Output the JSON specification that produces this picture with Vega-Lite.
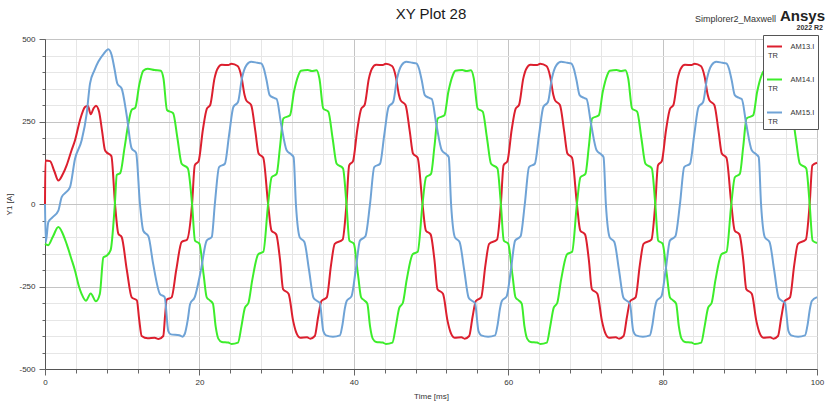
{
  "$schema": "https://vega.github.io/schema/vega-lite/v6.json",
  "width": 772,
  "height": 330,
  "autosize": {"type": "none"},
  "padding": {"left": 45, "top": 39, "right": 10, "bottom": 33},
  "background": "white",
  "config": {
    "font": "Liberation Sans",
    "view": {"stroke": "#8a8a8a", "strokeWidth": 1},
    "legend": {
      "orient": "none",
      "legendX": 718,
      "legendY": -4,
      "fillColor": "white",
      "strokeColor": "#555555",
      "padding": 3,
      "title": null,
      "symbolType": "stroke",
      "symbolSize": 225,
      "symbolStrokeWidth": 2,
      "labelFontSize": 7.5,
      "labelColor": "#333333",
      "labelLineHeight": 12,
      "labelOffset": -15,
      "labelBaseline": "middle",
      "rowPadding": 11
    }
  },
  "title": {"text": "XY Plot 28", "fontSize": 15, "fontWeight": "normal", "color": "#1a1a1a", "anchor": "middle", "frame": "group", "offset": -13},
  "datasets": {
    "red": [
      {"t":0,"v":0},{"t":0.05,"v":132},{"t":0.65,"v":130},{"t":1.2,"v":100},{"t":1.73,"v":71},{"t":2.3,"v":90},{"t":2.8,"v":117},{"t":3.4,"v":160},{"t":3.89,"v":193},{"t":4.53,"v":254},{"t":5.18,"v":294},{"t":5.55,"v":298},{"t":5.92,"v":272},{"t":6.3,"v":290},{"t":6.6,"v":298},{"t":7.0,"v":280},{"t":7.4,"v":220},{"t":7.77,"v":163},{"t":8.0,"v":156},{"t":8.6,"v":145},{"t":9.07,"v":0},{"t":9.5,"v":-90},{"t":9.93,"v":-100},{"t":10.6,"v":-200},{"t":11.23,"v":-283},{"t":11.9,"v":-292},{"t":12.2,"v":-350},{"t":12.52,"v":-400},{"t":13.3,"v":-407},{"t":14.2,"v":-405},{"t":14.7,"v":-409},{"t":15.32,"v":-400},{"t":15.55,"v":-340},{"t":15.76,"v":-290},{"t":16.4,"v":-283},{"t":17.0,"v":-200},{"t":17.7,"v":-115},{"t":18.4,"v":-108},
      {"t":19.05,"v":0},{"t":19.4,"v":117},{"t":19.9,"v":130},{"t":20.45,"v":225},{"t":20.97,"v":289},{"t":21.4,"v":300},{"t":21.95,"v":380},{"t":22.35,"v":410},{"t":22.9,"v":422},{"t":23.75,"v":421},{"t":24.15,"v":425},{"t":24.95,"v":418},{"t":25.45,"v":385},{"t":25.85,"v":330},{"t":26.07,"v":314},{"t":26.7,"v":300},{"t":27.25,"v":220},{"t":27.67,"v":153},{"t":28.27,"v":140},{"t":28.9,"v":0},{"t":29.33,"v":-80},{"t":29.95,"v":-92},{"t":30.45,"v":-170},{"t":30.84,"v":-258},{"t":31.55,"v":-272},{"t":32.15,"v":-355},{"t":32.55,"v":-390},{"t":33.05,"v":-405},{"t":33.95,"v":-404},{"t":34.35,"v":-408},{"t":34.95,"v":-400},{"t":35.37,"v":-344},{"t":35.81,"v":-294},{"t":36.5,"v":-283},{"t":37.05,"v":-185},{"t":37.53,"v":-121},{"t":38.55,"v":-108},
      {"t":39.05,"v":0},{"t":39.4,"v":117},{"t":39.9,"v":130},{"t":40.45,"v":225},{"t":40.97,"v":289},{"t":41.4,"v":300},{"t":41.95,"v":380},{"t":42.35,"v":410},{"t":42.9,"v":422},{"t":43.75,"v":421},{"t":44.15,"v":425},{"t":44.95,"v":418},{"t":45.45,"v":385},{"t":45.85,"v":330},{"t":46.07,"v":314},{"t":46.7,"v":300},{"t":47.25,"v":220},{"t":47.67,"v":153},{"t":48.27,"v":140},{"t":48.9,"v":0},{"t":49.33,"v":-80},{"t":49.95,"v":-92},{"t":50.45,"v":-170},{"t":50.84,"v":-258},{"t":51.55,"v":-272},{"t":52.15,"v":-355},{"t":52.55,"v":-390},{"t":53.05,"v":-405},{"t":53.95,"v":-404},{"t":54.35,"v":-408},{"t":54.95,"v":-400},{"t":55.37,"v":-344},{"t":55.81,"v":-294},{"t":56.5,"v":-283},{"t":57.05,"v":-185},{"t":57.53,"v":-121},{"t":58.55,"v":-108},
      {"t":59.05,"v":0},{"t":59.4,"v":117},{"t":59.9,"v":130},{"t":60.45,"v":225},{"t":60.97,"v":289},{"t":61.4,"v":300},{"t":61.95,"v":380},{"t":62.35,"v":410},{"t":62.9,"v":422},{"t":63.75,"v":421},{"t":64.15,"v":425},{"t":64.95,"v":418},{"t":65.45,"v":385},{"t":65.85,"v":330},{"t":66.07,"v":314},{"t":66.7,"v":300},{"t":67.25,"v":220},{"t":67.67,"v":153},{"t":68.27,"v":140},{"t":68.9,"v":0},{"t":69.33,"v":-80},{"t":69.95,"v":-92},{"t":70.45,"v":-170},{"t":70.84,"v":-258},{"t":71.55,"v":-272},{"t":72.15,"v":-355},{"t":72.55,"v":-390},{"t":73.05,"v":-405},{"t":73.95,"v":-404},{"t":74.35,"v":-408},{"t":74.95,"v":-400},{"t":75.37,"v":-344},{"t":75.81,"v":-294},{"t":76.5,"v":-283},{"t":77.05,"v":-185},{"t":77.53,"v":-121},{"t":78.55,"v":-108},
      {"t":79.05,"v":0},{"t":79.4,"v":117},{"t":79.9,"v":130},{"t":80.45,"v":225},{"t":80.97,"v":289},{"t":81.4,"v":300},{"t":81.95,"v":380},{"t":82.35,"v":410},{"t":82.9,"v":422},{"t":83.75,"v":421},{"t":84.15,"v":425},{"t":84.95,"v":418},{"t":85.45,"v":385},{"t":85.85,"v":330},{"t":86.07,"v":314},{"t":86.7,"v":300},{"t":87.25,"v":220},{"t":87.67,"v":153},{"t":88.27,"v":140},{"t":88.9,"v":0},{"t":89.33,"v":-80},{"t":89.95,"v":-92},{"t":90.45,"v":-170},{"t":90.84,"v":-258},{"t":91.55,"v":-272},{"t":92.15,"v":-355},{"t":92.55,"v":-390},{"t":93.05,"v":-405},{"t":93.95,"v":-404},{"t":94.35,"v":-408},{"t":94.95,"v":-400},{"t":95.37,"v":-344},{"t":95.81,"v":-294},{"t":96.5,"v":-283},{"t":97.05,"v":-185},{"t":97.53,"v":-121},{"t":98.55,"v":-108},
      {"t":99.05,"v":0},{"t":99.4,"v":117},{"t":100,"v":125}
    ],
    "green": [
      {"t":0,"v":-121},{"t":0.4,"v":-125},{"t":1.0,"v":-100},{"t":1.73,"v":-70},{"t":2.3,"v":-90},{"t":2.8,"v":-121},{"t":3.4,"v":-165},{"t":3.89,"v":-202},{"t":4.4,"v":-250},{"t":4.75,"v":-273},{"t":5.3,"v":-293},{"t":5.92,"v":-271},{"t":6.6,"v":-295},{"t":7.1,"v":-273},{"t":7.56,"v":-162},{"t":7.98,"v":-157},{"t":8.5,"v":-140},{"t":9.05,"v":0},{"t":9.3,"v":88},{"t":9.75,"v":94},{"t":10.3,"v":170},{"t":10.8,"v":244},{"t":11.23,"v":285},{"t":11.7,"v":292},{"t":12.2,"v":360},{"t":12.73,"v":404},{"t":13.3,"v":410},{"t":14.2,"v":406},{"t":15.0,"v":404},{"t":15.35,"v":380},{"t":15.8,"v":285},{"t":16.6,"v":275},{"t":17.15,"v":200},{"t":17.7,"v":122},{"t":18.5,"v":108},
      {"t":19.05,"v":0},{"t":19.43,"v":-111},{"t":20.0,"v":-120},{"t":20.55,"v":-215},{"t":20.95,"v":-283},{"t":21.35,"v":-292},{"t":21.75,"v":-302},{"t":22.1,"v":-370},{"t":22.45,"v":-408},{"t":22.9,"v":-418},{"t":23.75,"v":-420},{"t":24.15,"v":-424},{"t":25.0,"v":-420},{"t":25.45,"v":-370},{"t":25.9,"v":-314},{"t":26.35,"v":-300},{"t":26.85,"v":-230},{"t":27.63,"v":-152},{"t":28.28,"v":-145},{"t":28.9,"v":0},{"t":29.36,"v":81},{"t":30.0,"v":91},{"t":30.45,"v":175},{"t":30.87,"v":259},{"t":31.74,"v":269},{"t":32.25,"v":340},{"t":32.82,"v":390},{"t":33.15,"v":404},{"t":34.05,"v":406},{"t":34.55,"v":403},{"t":35.17,"v":405},{"t":35.55,"v":380},{"t":36.05,"v":289},{"t":36.7,"v":280},{"t":37.25,"v":200},{"t":37.78,"v":122},{"t":38.6,"v":108},
      {"t":39.05,"v":0},{"t":39.43,"v":-111},{"t":40.0,"v":-120},{"t":40.55,"v":-215},{"t":40.95,"v":-283},{"t":41.35,"v":-292},{"t":41.75,"v":-302},{"t":42.1,"v":-370},{"t":42.45,"v":-408},{"t":42.9,"v":-418},{"t":43.75,"v":-420},{"t":44.15,"v":-424},{"t":45.0,"v":-420},{"t":45.45,"v":-370},{"t":45.9,"v":-314},{"t":46.35,"v":-300},{"t":46.85,"v":-230},{"t":47.63,"v":-152},{"t":48.28,"v":-145},{"t":48.9,"v":0},{"t":49.36,"v":81},{"t":50.0,"v":91},{"t":50.45,"v":175},{"t":50.87,"v":259},{"t":51.74,"v":269},{"t":52.25,"v":340},{"t":52.82,"v":390},{"t":53.15,"v":404},{"t":54.05,"v":406},{"t":54.55,"v":403},{"t":55.17,"v":405},{"t":55.55,"v":380},{"t":56.05,"v":289},{"t":56.7,"v":280},{"t":57.25,"v":200},{"t":57.78,"v":122},{"t":58.6,"v":108},
      {"t":59.05,"v":0},{"t":59.43,"v":-111},{"t":60.0,"v":-120},{"t":60.55,"v":-215},{"t":60.95,"v":-283},{"t":61.35,"v":-292},{"t":61.75,"v":-302},{"t":62.1,"v":-370},{"t":62.45,"v":-408},{"t":62.9,"v":-418},{"t":63.75,"v":-420},{"t":64.15,"v":-424},{"t":65.0,"v":-420},{"t":65.45,"v":-370},{"t":65.9,"v":-314},{"t":66.35,"v":-300},{"t":66.85,"v":-230},{"t":67.63,"v":-152},{"t":68.28,"v":-145},{"t":68.9,"v":0},{"t":69.36,"v":81},{"t":70.0,"v":91},{"t":70.45,"v":175},{"t":70.87,"v":259},{"t":71.74,"v":269},{"t":72.25,"v":340},{"t":72.82,"v":390},{"t":73.15,"v":404},{"t":74.05,"v":406},{"t":74.55,"v":403},{"t":75.17,"v":405},{"t":75.55,"v":380},{"t":76.05,"v":289},{"t":76.7,"v":280},{"t":77.25,"v":200},{"t":77.78,"v":122},{"t":78.6,"v":108},
      {"t":79.05,"v":0},{"t":79.43,"v":-111},{"t":80.0,"v":-120},{"t":80.55,"v":-215},{"t":80.95,"v":-283},{"t":81.35,"v":-292},{"t":81.75,"v":-302},{"t":82.1,"v":-370},{"t":82.45,"v":-408},{"t":82.9,"v":-418},{"t":83.75,"v":-420},{"t":84.15,"v":-424},{"t":85.0,"v":-420},{"t":85.45,"v":-370},{"t":85.9,"v":-314},{"t":86.35,"v":-300},{"t":86.85,"v":-230},{"t":87.63,"v":-152},{"t":88.28,"v":-145},{"t":88.9,"v":0},{"t":89.36,"v":81},{"t":90.0,"v":91},{"t":90.45,"v":175},{"t":90.87,"v":259},{"t":91.74,"v":269},{"t":92.25,"v":340},{"t":92.82,"v":390},{"t":93.15,"v":404},{"t":94.05,"v":406},{"t":94.55,"v":403},{"t":95.17,"v":405},{"t":95.55,"v":380},{"t":96.05,"v":289},{"t":96.7,"v":280},{"t":97.25,"v":200},{"t":97.78,"v":122},{"t":98.6,"v":108},
      {"t":99.05,"v":0},{"t":99.43,"v":-111},{"t":100,"v":-118}
    ],
    "blue": [
      {"t":0,"v":0},{"t":0.1,"v":-116},{"t":0.43,"v":-55},{"t":1.0,"v":-40},{"t":1.73,"v":-20},{"t":2.16,"v":21},{"t":2.7,"v":35},{"t":3.24,"v":51},{"t":3.89,"v":137},{"t":4.75,"v":193},{"t":5.4,"v":274},{"t":5.83,"v":365},{"t":6.4,"v":405},{"t":6.9,"v":431},{"t":7.6,"v":455},{"t":8.2,"v":469},{"t":8.64,"v":451},{"t":9.0,"v":410},{"t":9.37,"v":365},{"t":9.93,"v":350},{"t":10.58,"v":269},{"t":11.23,"v":168},{"t":11.8,"v":155},{"t":12.3,"v":0},{"t":12.73,"v":-81},{"t":13.4,"v":-98},{"t":14.0,"v":-180},{"t":14.9,"v":-273},{"t":15.5,"v":-282},{"t":15.97,"v":-385},{"t":16.3,"v":-395},{"t":17.4,"v":-398},{"t":17.8,"v":-402},{"t":18.1,"v":-394},{"t":18.5,"v":-350},{"t":18.8,"v":-303},{"t":19.4,"v":-282},{"t":20.2,"v":-200},{"t":20.94,"v":-111},{"t":21.6,"v":-100},
      {"t":22.0,"v":0},{"t":22.55,"v":112},{"t":23.3,"v":122},{"t":23.85,"v":210},{"t":24.4,"v":294},{"t":25.0,"v":309},{"t":25.5,"v":380},{"t":26.1,"v":421},{"t":26.7,"v":431},{"t":27.5,"v":428},{"t":28.0,"v":426},{"t":28.35,"v":410},{"t":28.7,"v":375},{"t":29.1,"v":330},{"t":29.6,"v":322},{"t":30.0,"v":318},{"t":30.6,"v":240},{"t":31.3,"v":163},{"t":31.9,"v":150},{"t":32.2,"v":142},{"t":32.5,"v":0},{"t":33.0,"v":-101},{"t":33.6,"v":-115},{"t":34.2,"v":-200},{"t":34.76,"v":-283},{"t":35.0,"v":-290},{"t":35.6,"v":-300},{"t":36.05,"v":-385},{"t":36.4,"v":-398},{"t":37.3,"v":-402},{"t":38.2,"v":-398},{"t":38.5,"v":-370},{"t":38.86,"v":-314},{"t":39.08,"v":-294},{"t":39.7,"v":-280},{"t":40.25,"v":-200},{"t":40.8,"v":-111},{"t":41.5,"v":-98},
      {"t":42.1,"v":0},{"t":42.65,"v":112},{"t":43.4,"v":122},{"t":43.95,"v":210},{"t":44.5,"v":294},{"t":45.1,"v":309},{"t":45.6,"v":380},{"t":46.2,"v":421},{"t":46.8,"v":431},{"t":47.6,"v":428},{"t":48.1,"v":426},{"t":48.45,"v":410},{"t":48.8,"v":375},{"t":49.2,"v":330},{"t":49.7,"v":322},{"t":50.1,"v":318},{"t":50.7,"v":240},{"t":51.4,"v":163},{"t":52.0,"v":150},{"t":52.3,"v":142},{"t":52.6,"v":0},{"t":53.1,"v":-101},{"t":53.7,"v":-115},{"t":54.3,"v":-200},{"t":54.86,"v":-283},{"t":55.1,"v":-290},{"t":55.7,"v":-300},{"t":56.15,"v":-385},{"t":56.5,"v":-398},{"t":57.4,"v":-402},{"t":58.3,"v":-398},{"t":58.6,"v":-370},{"t":58.96,"v":-314},{"t":59.18,"v":-294},{"t":59.8,"v":-280},{"t":60.35,"v":-200},{"t":60.9,"v":-111},{"t":61.6,"v":-98},
      {"t":62.15,"v":0},{"t":62.7,"v":112},{"t":63.45,"v":122},{"t":64.0,"v":210},{"t":64.55,"v":294},{"t":65.15,"v":309},{"t":65.65,"v":380},{"t":66.25,"v":421},{"t":66.85,"v":431},{"t":67.65,"v":428},{"t":68.15,"v":426},{"t":68.5,"v":410},{"t":68.85,"v":375},{"t":69.25,"v":330},{"t":69.75,"v":322},{"t":70.15,"v":318},{"t":70.75,"v":240},{"t":71.45,"v":163},{"t":72.05,"v":150},{"t":72.35,"v":142},{"t":72.65,"v":0},{"t":73.15,"v":-101},{"t":73.75,"v":-115},{"t":74.35,"v":-200},{"t":74.91,"v":-283},{"t":75.15,"v":-290},{"t":75.75,"v":-300},{"t":76.2,"v":-385},{"t":76.55,"v":-398},{"t":77.45,"v":-402},{"t":78.35,"v":-398},{"t":78.65,"v":-370},{"t":79.01,"v":-314},{"t":79.23,"v":-294},{"t":79.85,"v":-280},{"t":80.4,"v":-200},{"t":80.95,"v":-111},{"t":81.65,"v":-98},
      {"t":82.25,"v":0},{"t":82.8,"v":112},{"t":83.55,"v":122},{"t":84.1,"v":210},{"t":84.65,"v":294},{"t":85.25,"v":309},{"t":85.75,"v":380},{"t":86.35,"v":421},{"t":86.95,"v":431},{"t":87.75,"v":428},{"t":88.25,"v":426},{"t":88.6,"v":410},{"t":88.95,"v":375},{"t":89.35,"v":330},{"t":89.85,"v":322},{"t":90.25,"v":318},{"t":90.85,"v":240},{"t":91.55,"v":163},{"t":92.15,"v":150},{"t":92.45,"v":142},{"t":92.75,"v":0},{"t":93.25,"v":-101},{"t":93.85,"v":-115},{"t":94.45,"v":-200},{"t":95.01,"v":-283},{"t":95.25,"v":-290},{"t":95.85,"v":-300},{"t":96.3,"v":-385},{"t":96.65,"v":-398},{"t":97.55,"v":-402},{"t":98.45,"v":-398},{"t":98.75,"v":-370},{"t":99.11,"v":-314},{"t":99.33,"v":-294},{"t":100,"v":-282}
    ],
    "stamp": [{"t": 100, "v": 500}]
  },
  "encoding": {
    "x": {
      "field": "t", "type": "quantitative",
      "scale": {"domain": [0, 100], "nice": false, "zero": false},
      "axis": {
        "title": "Time [ms]",
        "values": [0,4,8,12,16,20,24,28,32,36,40,44,48,52,56,60,64,68,72,76,80,84,88,92,96,100],
        "labelExpr": "datum.value % 20 === 0 ? '' + datum.value : ''",
        "labelFlush": false, "labelOverlap": false,
        "labelFontSize": 8, "labelColor": "#333333", "labelPadding": 3,
        "titleFontSize": 8, "titleFontWeight": "normal", "titleColor": "#333333", "titlePadding": 6,
        "tickSize": {"condition": {"test": "datum.value % 20 === 0", "value": 6}, "value": 4},
        "tickColor": "#666666", "domainColor": "#555555",
        "grid": true,
        "gridColor": {"condition": {"test": "datum.value % 20 === 0", "value": "#c4c4c4"}, "value": "#e6e6e6"}
      }
    },
    "y": {
      "field": "v", "type": "quantitative",
      "scale": {"domain": [-500, 500], "nice": false},
      "axis": {
        "title": "Y1 [A]",
        "values": [-500,-450,-400,-350,-300,-250,-200,-150,-100,-50,0,50,100,150,200,250,300,350,400,450,500],
        "labelExpr": "datum.value % 250 === 0 ? '' + datum.value : ''",
        "labelOverlap": false, "labelFlush": false,
        "labelFontSize": 8, "labelColor": "#333333", "labelPadding": 4,
        "titleFontSize": 8, "titleFontWeight": "normal", "titleColor": "#333333", "titlePadding": 5,
        "tickSize": {"condition": {"test": "datum.value % 250 === 0", "value": 6}, "value": 3},
        "tickColor": "#666666", "domainColor": "#555555",
        "grid": true,
        "gridColor": {"condition": {"test": "datum.value % 250 === 0", "value": "#c4c4c4"}, "value": "#e6e6e6"}
      }
    }
  },
  "layer": [
    {
      "data": {"name": "red"},
      "mark": {"type": "line", "strokeWidth": 2, "interpolate": "monotone"},
      "encoding": {
        "color": {"datum": "AM13.I", "type": "nominal",
          "scale": {"domain": ["AM13.I", "AM14.I", "AM15.I"], "range": ["#dc1f2e", "#3ded2b", "#6fa3d6"]},
          "legend": {"labelExpr": "['\u200b\u2003\u2003\u2003' + datum.label, 'TR']"}}
      }
    },
    {
      "data": {"name": "green"},
      "mark": {"type": "line", "strokeWidth": 2, "interpolate": "monotone"},
      "encoding": {"color": {"datum": "AM14.I", "type": "nominal"}}
    },
    {
      "data": {"name": "blue"},
      "mark": {"type": "line", "strokeWidth": 2, "interpolate": "monotone"},
      "encoding": {"color": {"datum": "AM15.I", "type": "nominal"}}
    },
    {
      "data": {"name": "stamp"},
      "mark": {"type": "text", "text": "Simplorer2_Maxwell", "align": "right", "baseline": "alphabetic", "dx": -41, "dy": -17, "fontSize": 9, "color": "#333333"}
    },
    {
      "data": {"name": "stamp"},
      "mark": {"type": "text", "text": "Ansys", "align": "right", "baseline": "alphabetic", "dx": 8, "dy": -18, "fontSize": 15, "fontWeight": "bold", "color": "#222222"}
    },
    {
      "data": {"name": "stamp"},
      "mark": {"type": "text", "text": "2022 R2", "align": "right", "baseline": "alphabetic", "dx": 6, "dy": -9, "fontSize": 7, "fontWeight": "bold", "color": "#333333"}
    }
  ]
}
